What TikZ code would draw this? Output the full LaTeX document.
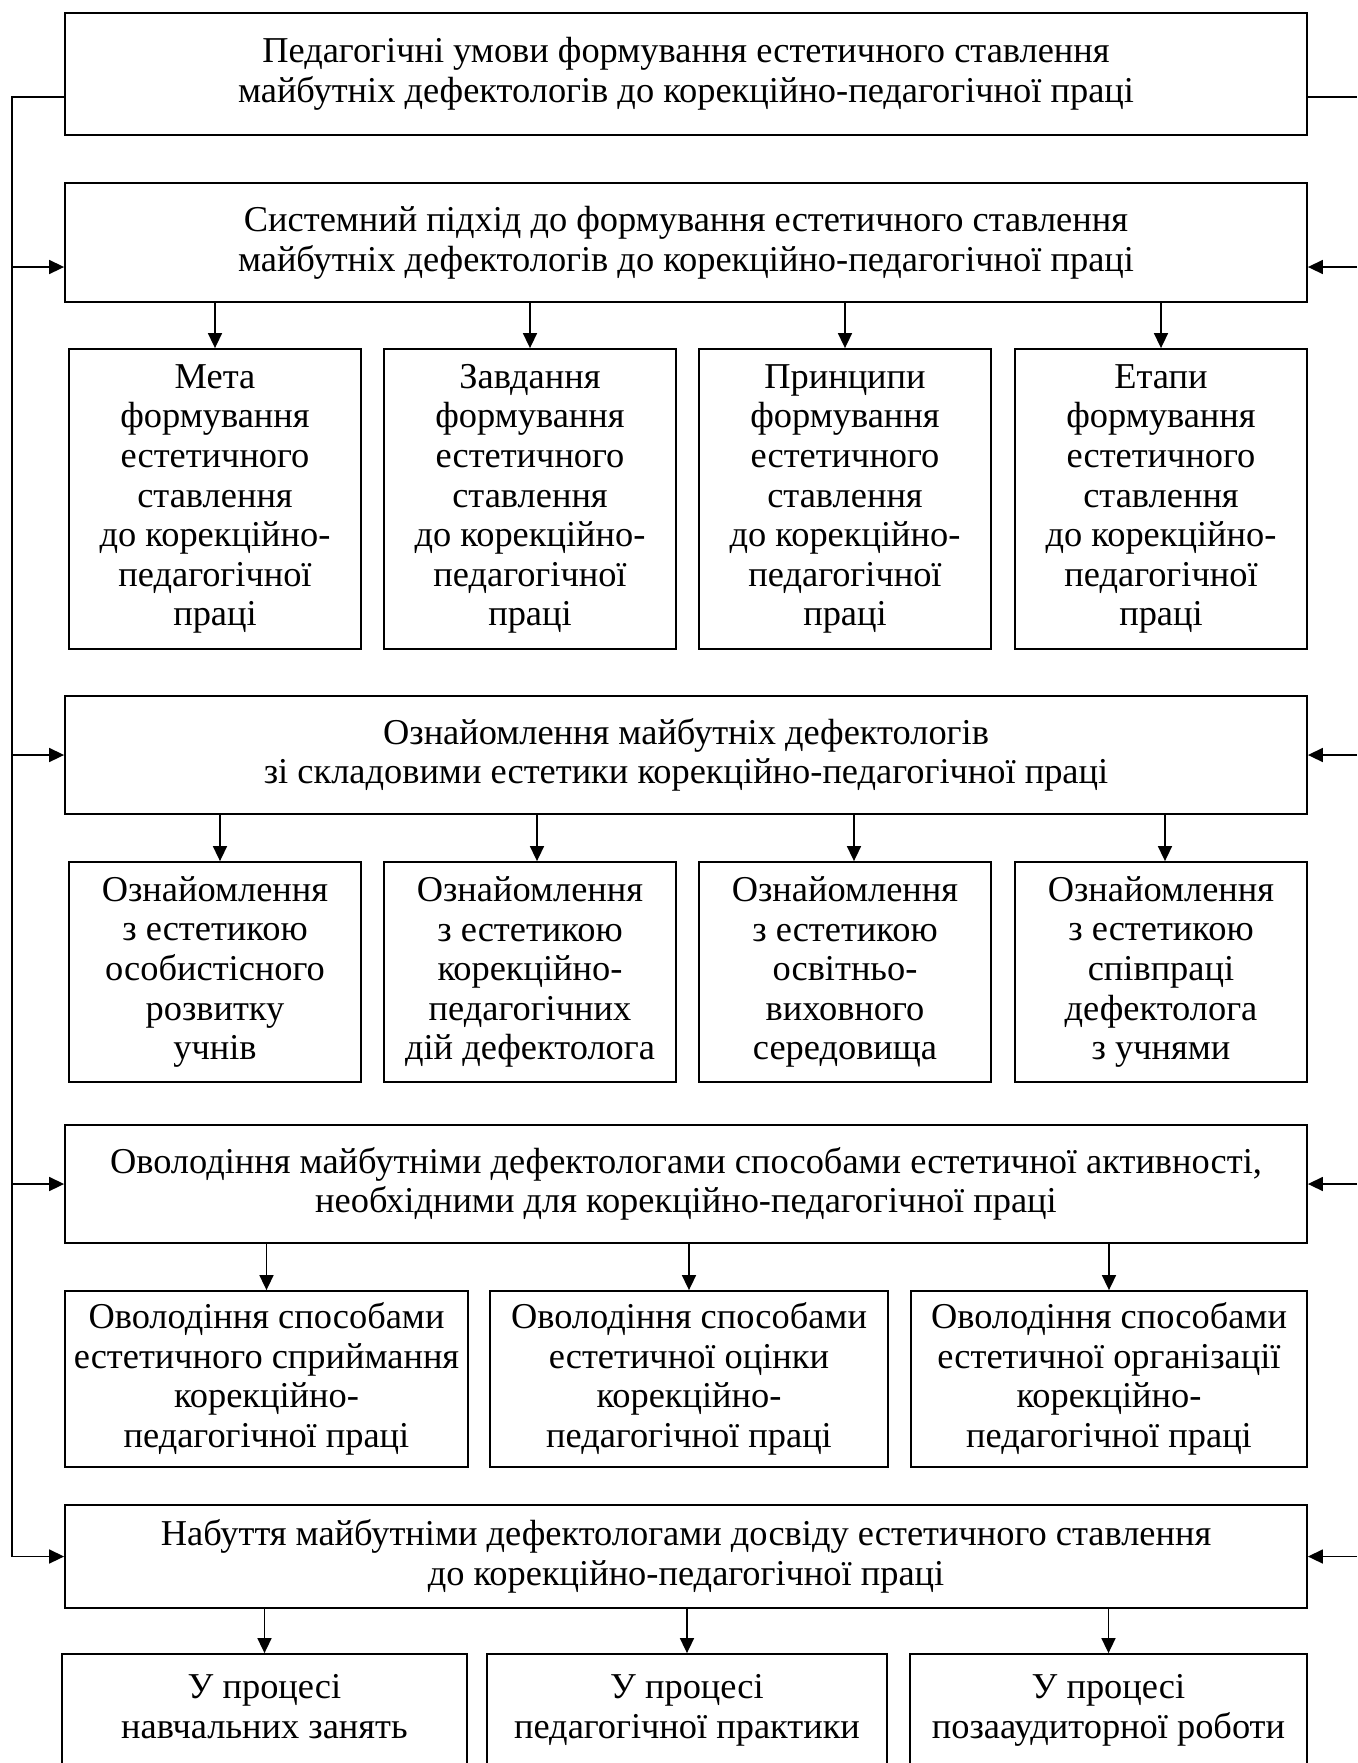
\documentclass[tikz,border=0pt]{standalone}
\usepackage{fontspec}
\setmainfont{Liberation Serif}
\usepackage{tikz}
\usetikzlibrary{arrows.meta, calc, positioning}

\tikzset{
    box/.style={draw, rectangle, align=center, inner sep=0pt, line width=0.9pt,
        font=\fontsize{18.2}{19.8}\selectfont},
    wide/.style={box, minimum width=621pt},
    arr/.style={-{Triangle[length=7.5pt, width=7pt]}, line width=0.8pt},
}

\begin{document}
\begin{tikzpicture}[x=0.5pt, y=-0.5pt]
                        \useasboundingbox (0, 0) rectangle (1357, 1763);
                        % main boxes
                        \node[wide, minimum height=61pt] (umovy) at (686, 74) {Педагогічні умови формування естетичного ставлення\\ майбутніх дефектологів до корекційно-педагогічної праці};
                        \node[wide, minimum height=59.5pt] (pidkhid) at (686, 242.5) {Системний підхід до формування естетичного ставлення\\ майбутніх дефектологів до корекційно-педагогічної праці};
                        \node[wide, minimum height=59pt] (oznaiom) at (686, 755) {Ознайомлення майбутніх дефектологів\\ зі складовими естетики корекційно-педагогічної праці};
                        \node[wide, minimum height=59pt] (ovolod) at (686, 1184) {Оволодіння майбутніми дефектологами способами естетичної активності,\\ необхідними для корекційно-педагогічної праці};
                        \node[wide, minimum height=51.5pt] (nabuttia) at (686, 1556.5) {Набуття майбутніми дефектологами досвіду естетичного ставлення\\ до корекційно-педагогічної праці};
                        % system approach
                        \node[box, minimum width=146pt, minimum height=150pt] (meta) at (215, 499) {Мета\\ формування\\ естетичного\\ ставлення\\ до корекційно-\\ педагогічної\\ праці};
                        \node[box, minimum width=146pt, minimum height=150pt] (zavd) at (530, 499) {Завдання\\ формування\\ естетичного\\ ставлення\\ до корекційно-\\ педагогічної\\ праці};
                        \node[box, minimum width=146pt, minimum height=150pt] (pryntsyp) at (845, 499) {Принципи\\ формування\\ естетичного\\ ставлення\\ до корекційно-\\ педагогічної\\ праці};
                        \node[box, minimum width=146pt, minimum height=150pt] (etapy) at (1161, 499) {Етапи\\ формування\\ естетичного\\ ставлення\\ до корекційно-\\ педагогічної\\ праці};
                        % components
                        \node[box, minimum width=146pt, minimum height=110pt] (oz1) at (215, 972) {Ознайомлення\\ з естетикою\\ особистісного\\ розвитку\\ учнів};
                        \node[box, minimum width=146pt, minimum height=110pt] (oz2) at (530, 972) {Ознайомлення\\ з естетикою\\ корекційно-\\ педагогічних\\ дій дефектолога};
                        \node[box, minimum width=146pt, minimum height=110pt] (oz3) at (845, 972) {Ознайомлення\\ з естетикою\\ освітньо-\\ виховного\\ середовища};
                        \node[box, minimum width=146pt, minimum height=110pt] (oz4) at (1161, 972) {Ознайомлення\\ з естетикою\\ співпраці\\ дефектолога\\ з учнями};
                        % ways of activity
                        \node[box, minimum width=201.5pt, minimum height=88pt] (sp1) at (266.5, 1379) {Оволодіння способами\\ естетичного сприймання\\ корекційно-\\ педагогічної праці};
                        \node[box, minimum width=199pt, minimum height=88pt] (sp2) at (689, 1379) {Оволодіння способами\\ естетичної оцінки\\ корекційно-\\ педагогічної праці};
                        \node[box, minimum width=198pt, minimum height=88pt] (sp3) at (1109, 1379) {Оволодіння способами\\ естетичної організації\\ корекційно-\\ педагогічної праці};
                        % experience
                        \node[box, minimum width=202.5pt, minimum height=73pt] (pr1) at (264.5, 1727) {У процесі\\ навчальних занять\\[1pt]};
                        \node[box, minimum width=200pt, minimum height=73pt] (pr2) at (687, 1727) {У процесі\\ педагогічної практики\\[1pt]};
                        \node[box, minimum width=198.5pt, minimum height=73pt] (pr3) at (1108.5, 1727) {У процесі\\ позааудиторної роботи\\[1pt]};
                        % side lines
                        \coordinate (l0) at (12, 97);
                        \coordinate (l1) at (12, 267);
                        \coordinate (l2) at (12, 755);
                        \coordinate (l3) at (12, 1184);
                        \coordinate (l4) at (12, 1556.5);
                        \coordinate (r0) at (1357, 97);
                        \coordinate (r1) at (1357, 267);
                        \coordinate (r2) at (1357, 755);
                        \coordinate (r3) at (1357, 1184);
                        \coordinate (r4) at (1357, 1556.5);
                        \draw[line width=0.8pt]
                        (umovy.west |- l0) -- (l0) -- (l4)
                        (umovy.east |- r0) -- (r0);
                        \draw[line width=0.8pt]
                        (l1) edge[arr] (pidkhid.west |- l1)
                        (l2) edge[arr] (oznaiom.west)
                        (l3) edge[arr] (ovolod.west)
                        (l4) edge[arr] (nabuttia.west)
                        (r1) edge[arr] (pidkhid.east |- r1)
                        (r2) edge[arr] (oznaiom.east)
                        (r3) edge[arr] (ovolod.east)
                        (r4) edge[arr] (nabuttia.east)
                        (pidkhid.south -| meta) edge[arr] (meta)
                        (pidkhid.south -| zavd) edge[arr] (zavd)
                        (pidkhid.south -| pryntsyp) edge[arr] (pryntsyp)
                        (pidkhid.south -| etapy) edge[arr] (etapy)
                        ([xshift=2.5pt]oznaiom.south -| oz1) edge[arr] ([xshift=2.5pt]oz1.north)
                        ([xshift=3.5pt]oznaiom.south -| oz2) edge[arr] ([xshift=3.5pt]oz2.north)
                        ([xshift=4.5pt]oznaiom.south -| oz3) edge[arr] ([xshift=4.5pt]oz3.north)
                        ([xshift=2pt]oznaiom.south -| oz4) edge[arr] ([xshift=2pt]oz4.north)
                        (ovolod.south -| sp1) edge[arr] (sp1)
                        (ovolod.south -| sp2) edge[arr] (sp2)
                        (ovolod.south -| sp3) edge[arr] (sp3)
                        (nabuttia.south -| pr1) edge[arr] (pr1)
                        (nabuttia.south -| pr2) edge[arr] (pr2)
                        (nabuttia.south -| pr3) edge[arr] (pr3);
                    \end{tikzpicture}
\end{document}
